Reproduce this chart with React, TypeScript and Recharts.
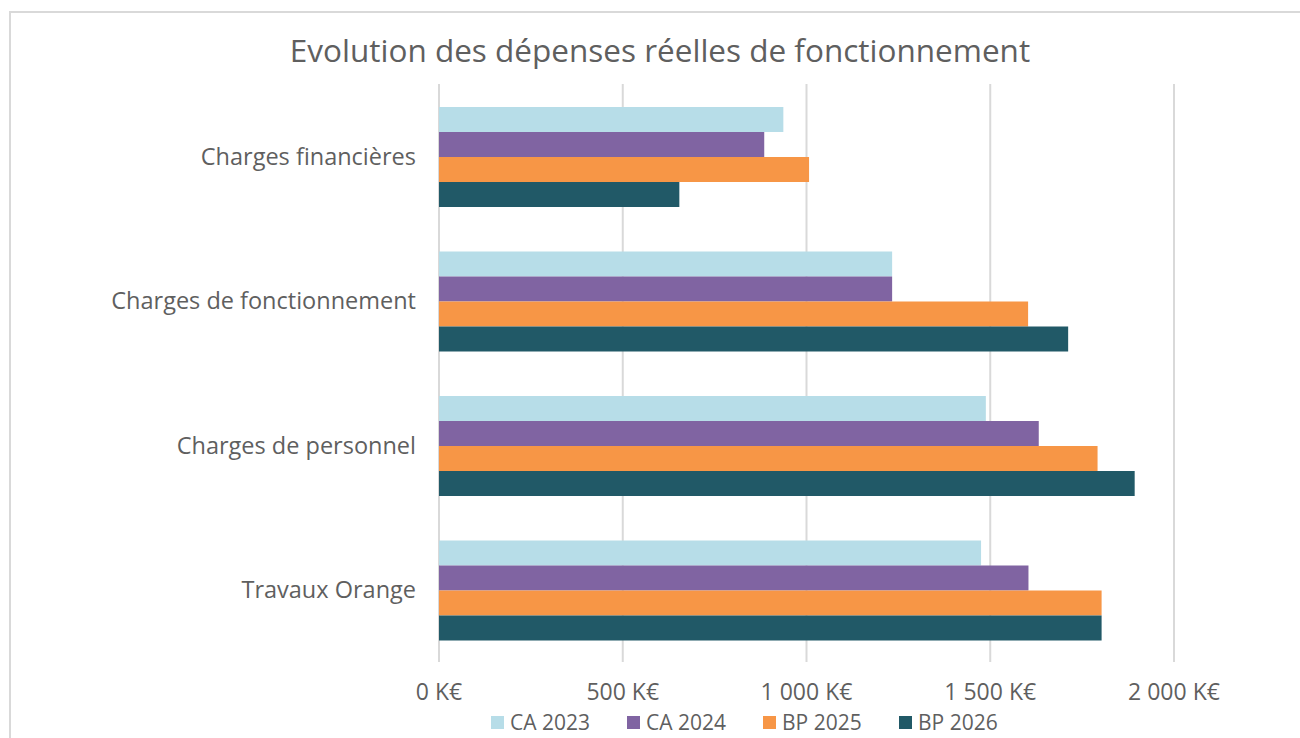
import {
  BarChart,
  Bar,
  XAxis,
  YAxis,
  CartesianGrid,
  Legend,
} from "recharts";

const categories = [
  "Charges financières",
  "Charges de fonctionnement",
  "Charges de personnel",
  "Travaux Orange",
];
const ca2023 = [937, 1233, 1488, 1475];
const ca2024 = [885, 1233, 1632, 1604];
const bp2025 = [1007, 1603, 1792, 1803];
const bp2026 = [654, 1712, 1893, 1803];
const xTicks = [0, 500, 1000, 1500, 2000];

const series = [
  { key: "ca2023", name: "CA 2023", color: "#b7dde8" },
  { key: "ca2024", name: "CA 2024", color: "#8064a2" },
  { key: "bp2025", name: "BP 2025", color: "#f79646" },
  { key: "bp2026", name: "BP 2026", color: "#215967" },
];

const FONT = "'Open Sans', 'Noto Sans', sans-serif";
const GREY = "#5f5f5f";

const fmt = (v: number) =>
  `${String(v).replace(/\B(?=(\d{3})+(?!\d))/g, " ")} K€`;

function LegendBox() {
  return (
    <div style={{ display: "flex", fontFamily: FONT, fontSize: 21, color: GREY }}>
      {series.map((s) => (
        <div
          key={s.key}
          style={{ display: "flex", alignItems: "center", width: 136 }}
        >
          <span
            style={{
              width: 13,
              height: 13,
              background: s.color,
              marginRight: 6,
              display: "inline-block",
            }}
          />
          <span>{s.name}</span>
        </div>
      ))}
    </div>
  );
}

export default function App() {
  const data = categories.map((name, i) => ({
    name,
    ca2023: ca2023[i],
    ca2024: ca2024[i],
    bp2025: bp2025[i],
    bp2026: bp2026[i],
  }));

  return (
    <div
      style={{
        position: "absolute",
        left: 0,
        top: 0,
        width: 1300,
        height: 738,
        background: "#fff",
        overflow: "hidden",
      }}
    >
      <div
        style={{
          position: "absolute",
          left: 9,
          top: 11,
          width: 1320,
          height: 800,
          border: "2px solid #d9d9d9",
        }}
      />
      <div
        style={{
          position: "absolute",
          left: 0,
          width: 1320,
          top: 28,
          textAlign: "center",
          fontFamily: FONT,
          fontSize: 31.5,
          color: GREY,
        }}
      >
        Evolution des dépenses réelles de fonctionnement
      </div>
      <div style={{ position: "absolute", left: 0, top: 0 }}>
        <BarChart
          width={1300}
          height={738}
          data={data}
          layout="vertical"
          margin={{ top: 84, right: 126, left: 0, bottom: 36 }}
          barCategoryGap="16%"
          barGap={0}
        >
          <CartesianGrid
            horizontal={false}
            stroke="#d9d9d9"
            strokeWidth={2}
          />
          <XAxis
            type="number"
            domain={[0, 2000]}
            ticks={xTicks}
            tickFormatter={fmt}
            axisLine={false}
            tickLine={false}
            height={40}
            tickMargin={16}
            tick={{ fill: GREY, fontSize: 23, fontFamily: FONT }}
          />
          <YAxis
            type="category"
            dataKey="name"
            width={439}
            axisLine={false}
            tickLine={false}
            tickMargin={17}
            tick={{ fill: GREY, fontSize: 23.5, fontFamily: FONT }}
          />
          <Legend
            verticalAlign="middle"
            align="center"
            content={() => <LegendBox />}
            wrapperStyle={{ left: 491, top: 708, width: 600 }}
          />
          {series.map((s) => (
            <Bar
              key={s.key}
              dataKey={s.key}
              name={s.name}
              fill={s.color}
              isAnimationActive={false}
            />
          ))}
        </BarChart>
      </div>
    </div>
  );
}
